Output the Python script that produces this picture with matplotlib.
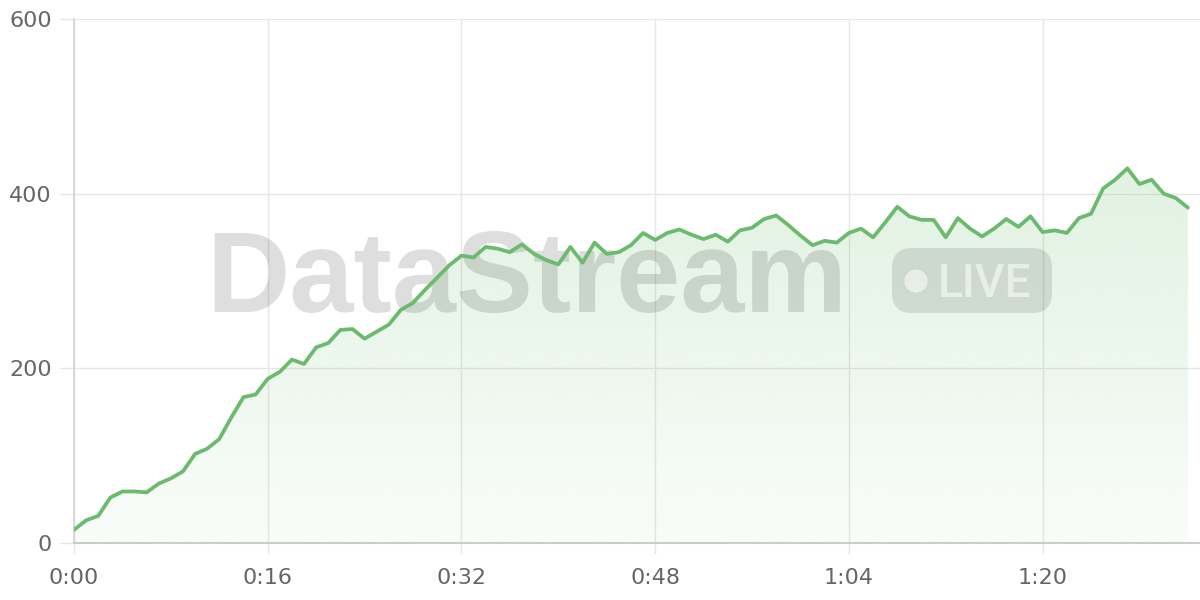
import numpy as np
import matplotlib.pyplot as plt
from matplotlib.patches import FancyBboxPatch, Circle
from matplotlib.ticker import FuncFormatter
from matplotlib.transforms import IdentityTransform

# Werte pro Minute
values = [15, 26, 31, 52, 59, 59, 58, 68, 74, 82,
          102, 108, 119, 144, 167, 170, 188, 196, 210, 205,
          224, 229, 244, 245, 234, 242, 250, 267, 275, 290,
          304, 318, 329, 327, 339, 337, 333, 342, 331, 324,
          319, 339, 321, 344, 331, 333, 341, 355, 347, 355,
          359, 353, 348, 353, 345, 358, 361, 371, 375, 364,
          352, 341, 346, 344, 355, 360, 350, 367, 385, 374,
          370, 370, 350, 372, 360, 351, 360, 371, 362, 374,
          356, 358, 355, 372, 377, 406, 416, 429, 411, 416,
          400, 395, 384]
minutes = list(range(len(values)))

x_ticks = [0, 16, 32, 48, 64, 80]
y_ticks = [0, 200, 400, 600]

line_color = '#6cba6e'
grid_color = '#e6e6e6'
label_color = '#666666'

fig = plt.figure(figsize=(12, 6), dpi=100)
ax = fig.add_axes([74 / 1200, 57 / 600, 1 - 74 / 1200, (543 - 19) / 600])
ax.set_xlim(0, 93)
ax.set_ylim(0, 600)

# Flaeche mit Verlauf
poly = ax.fill_between(minutes, values, 0, color='none', lw=0)
grad = np.zeros((256, 1, 4))
grad[:, 0, 0] = 102 / 255
grad[:, 0, 1] = 187 / 255
grad[:, 0, 2] = 106 / 255
grad[:, 0, 3] = np.linspace(0.26, 0.04, 256)
img = ax.imshow(grad, extent=[0, 93, 0, 600], origin='upper', aspect='auto',
                interpolation='bicubic', zorder=1)
img.set_clip_path(poly.get_paths()[0], transform=ax.transData)

ax.plot(minutes, values, color=line_color, lw=2.7, solid_joinstyle='round',
        solid_capstyle='round', zorder=4)

# Wasserzeichen
ax.text(206, 288, 'DataStream', transform=IdentityTransform(), fontsize=83,
        family='Liberation Sans', weight='bold', color='black', alpha=0.13,
        va='baseline', ha='left', zorder=3)
badge = FancyBboxPatch((892, 287), 160, 65, boxstyle='round,pad=0,rounding_size=20',
                       transform=IdentityTransform(), facecolor='black', alpha=0.11,
                       edgecolor='none', zorder=3, clip_on=False)
ax.add_patch(badge)
dot = Circle((916, 319), 11.5, transform=IdentityTransform(), facecolor='white',
             alpha=0.55, edgecolor='none', zorder=3, clip_on=False)
ax.add_patch(dot)
ax.text(938, 303, 'LIVE', transform=IdentityTransform(), fontsize=33,
        family='Roboto', weight='medium', color='white', alpha=0.55,
        va='baseline', ha='left', zorder=3)

# Achsen
ax.set_xticks(x_ticks)
ax.set_yticks(y_ticks)
ax.xaxis.set_major_formatter(FuncFormatter(lambda v, p: f"{int(v) // 60}:{int(v) % 60:02d}"))
ax.grid(True, color=grid_color, lw=1)
ax.set_axisbelow(True)
for s in ['top', 'right']:
    ax.spines[s].set_visible(False)
ax.spines['left'].set_color('#d2d2d2')
ax.spines['left'].set_linewidth(1.2)
ax.spines['bottom'].set_color('#cccccc')
ax.spines['bottom'].set_linewidth(1.5)
ax.tick_params(axis='y', length=10, width=1, color=grid_color, pad=6,
               labelsize=16, labelcolor=label_color)
ax.tick_params(axis='x', length=8, width=1, color=grid_color, pad=10,
               labelsize=16, labelcolor=label_color)

fig.savefig('out.png', dpi=100)
